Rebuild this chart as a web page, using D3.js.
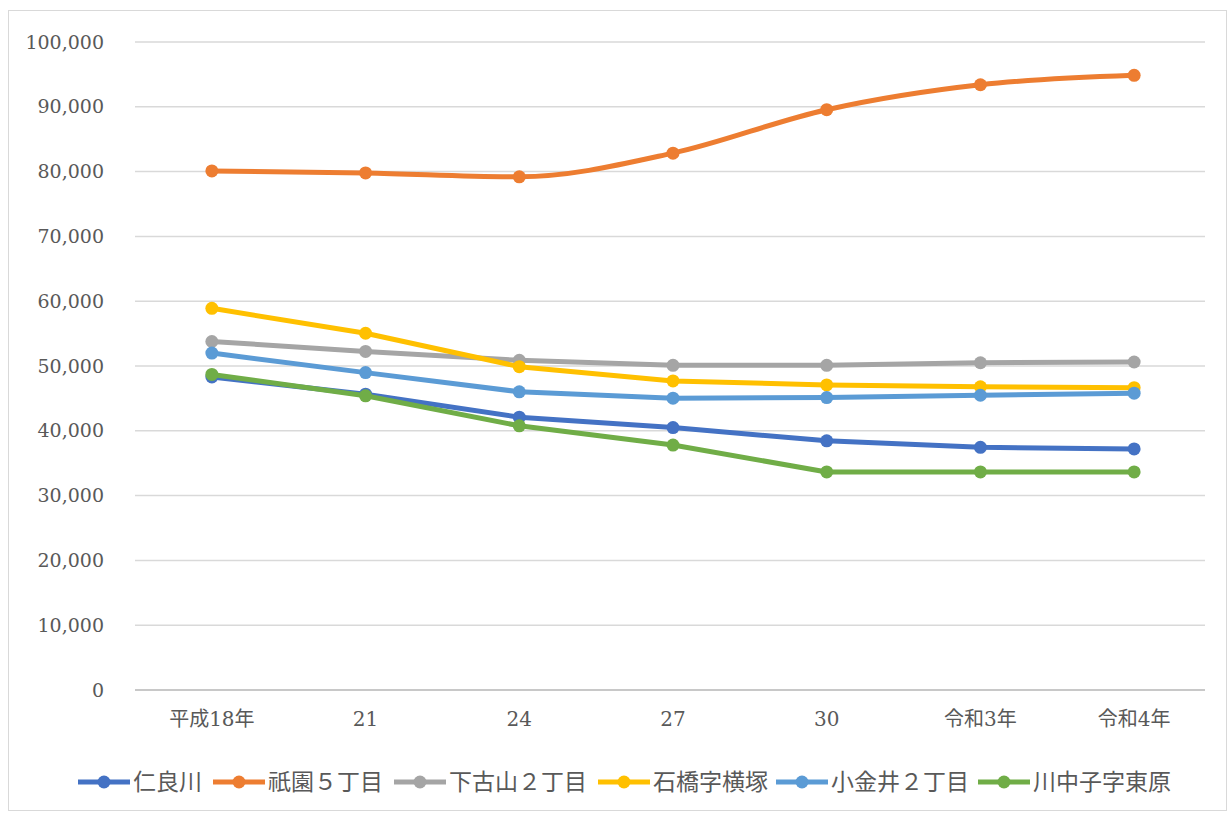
<!DOCTYPE html>
<html><head><meta charset="utf-8">
<script src="https://cdn.jsdelivr.net/npm/d3@7"></script>
<style>body{margin:0;background:#fff}</style>
</head><body>
<svg id="c" width="1232" height="816"></svg>
<script>
const categories = ["平成18年","21","24","27","30","令和3年","令和4年"];
const seriesNames = ["仁良川","祇園５丁目","下古山２丁目","石橋字横塚","小金井２丁目","川中子字東原"];
const niragawa = [48300, 45650, 42100, 40500, 38450, 37450, 37200];
const gion5 = [80100, 79800, 79200, 82850, 89550, 93400, 94850];
const shimofuruyama2 = [53780, 52250, 50870, 50100, 50100, 50500, 50620];
const ishibashi = [58900, 55050, 49900, 47700, 47080, 46800, 46650];
const koganei2 = [52000, 48980, 46020, 45030, 45130, 45490, 45800];
const kawanakago = [48700, 45400, 40770, 37800, 33650, 33650, 33650];
const yTicks = [0,10000,20000,30000,40000,50000,60000,70000,80000,90000,100000];
const colors = ["#4472C4","#ED7D31","#A5A5A5","#FFC000","#5B9BD5","#70AD47"];
const values = [niragawa, gion5, shimofuruyama2, ishibashi, koganei2, kawanakago];

const svg = d3.select("#c");
const fontNum = "'DejaVu Serif','Liberation Serif',serif";
const fontJp = "'DejaVu Serif','Noto Sans CJK JP',serif";

svg.append("rect").attr("x",8.5).attr("y",10.5).attr("width",1218).attr("height",800)
  .attr("fill","#fff").attr("stroke","#d9d9d9");

const x = d3.scaleBand().domain(categories).range([135,1211]);
const y = d3.scaleLinear().domain([0,100000]).range([690,42]);

const grid = svg.append("g");
yTicks.forEach(t=>{
  grid.append("line").attr("x1",135).attr("x2",1205).attr("y1",y(t)).attr("y2",y(t))
    .attr("stroke", t===0 ? "#c8c8c8" : "#d9d9d9").attr("stroke-width", t===0?2:1.5);
});

const yAxis = svg.append("g").attr("transform","translate(110,0)")
  .call(d3.axisLeft(y).tickValues(yTicks).tickSize(0).tickPadding(6).tickFormat(d3.format(",")));
yAxis.select(".domain").remove();
yAxis.selectAll("text").attr("font-family",fontNum).attr("font-size",19).attr("fill","#595959");

const xAxis = svg.append("g").attr("transform","translate(0,710)")
  .call(d3.axisBottom(x).tickSize(0).tickPadding(2));
xAxis.select(".domain").remove();
xAxis.selectAll("text").attr("font-family",fontJp).attr("font-size",20).attr("fill","#595959");

const cx = c => x(c) + x.bandwidth()/2;
values.forEach((vals,i)=>{
  const pts = vals.map((v,j)=>[cx(categories[j]), y(v)]);
  const line = d3.line().curve(i===1 ? d3.curveMonotoneX : d3.curveLinear);
  svg.append("path").attr("d",line(pts)).attr("fill","none").attr("stroke",colors[i])
    .attr("stroke-width",5).attr("stroke-linejoin","round");
  svg.selectAll(null).data(pts).enter().append("circle")
    .attr("cx",d=>d[0]).attr("cy",d=>d[1]).attr("r",6.5).attr("fill",colors[i]);
});

// legend
const legendX = [78, 213, 394, 598, 776, 978];
const lg = svg.append("g");
seriesNames.forEach((n,i)=>{
  const g = lg.append("g").attr("transform",`translate(${legendX[i]},782)`);
  g.append("line").attr("x1",0).attr("x2",52).attr("y1",0).attr("y2",0)
    .attr("stroke",colors[i]).attr("stroke-width",5);
  g.append("circle").attr("cx",26).attr("cy",0).attr("r",6.5).attr("fill",colors[i]);
  g.append("text").attr("x",55).attr("y",8).text(n)
    .attr("font-family",fontJp).attr("font-size",23).attr("fill","#595959");
});
</script>
</body></html>
